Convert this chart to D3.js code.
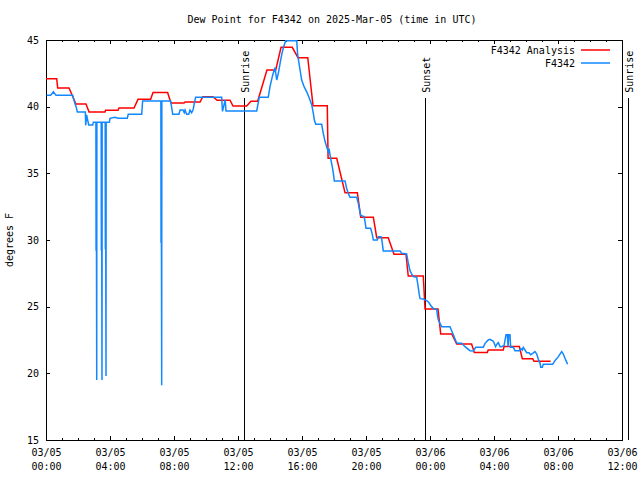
<!DOCTYPE html>
<html>
<head>
<meta charset="utf-8">
<script src="https://cdn.jsdelivr.net/npm/d3@7"></script>
<style>
  html, body { margin: 0; padding: 0; background: #fff; }
  svg { display: block; }
  text { font-family: "DejaVu Sans Mono", monospace; font-size: 10px; fill: #000; }
</style>
</head>
<body>
<svg id="chart" width="640" height="480"></svg>
<script>
// ---- data (hours after 2025-03-05 00:00 UTC, dew point in °F) ----
const titleText = "Dew Point for F4342 on 2025-Mar-05 (time in UTC)";
const yLabelText = "degrees F";
const seriesNames = ["F4342 Analysis", "F4342"];
const yTickValues = [15, 20, 25, 30, 35, 40, 45];

const analysisHours = [0, 0.67, 0.73, 1.44, 1.87, 2.5, 2.69, 3.69, 3.72, 4.5, 4.56, 5.5, 5.75, 6.54, 6.69, 7.6,
  7.81, 8.63, 8.69, 9.63, 9.8, 10.44, 10.69, 11.5, 11.69, 12.54, 12.81, 13.23, 13.81, 14.36, 14.69, 15.39,
  15.75, 16.36, 16.69, 17.58, 17.63, 18.17, 18.69, 19.46, 19.67, 20.46, 20.67, 21.39, 21.75, 22.5, 22.64,
  23.58, 23.69, 24.5, 24.67, 25.36, 25.67, 26.6, 26.77, 27.58, 27.64, 28.58, 28.63, 29.58, 29.77, 30.42,
  30.5, 31.54];
const analysisValues = [42.1, 42.1, 41.4, 41.4, 40.2, 40.2, 39.6, 39.6, 39.73, 39.73, 39.9, 39.9, 40.55, 40.55, 41.07, 41.07,
  40.28, 40.28, 40.35, 40.35, 40.75, 40.75, 40.48, 40.48, 40.05, 40.05, 40.4, 40.4, 42.75, 42.75, 44.45, 44.45,
  43.67, 43.67, 40.07, 40.07, 36.13, 36.13, 33.55, 33.55, 31.7, 31.7, 30.17, 30.17, 28.93, 28.93, 27.3,
  27.3, 24.82, 24.82, 22.95, 22.95, 22.2, 22.2, 21.57, 21.57, 21.75, 21.75, 22.02, 22.02, 21.1, 21.1,
  20.9, 20.9];

const obsHours = [0.04, 0.29, 0.46, 0.63, 1.67, 1.77, 1.88, 1.96, 2.46, 2.48, 2.54, 2.58, 2.67, 2.92, 2.96,
  3.12, 3.13, 3.14, 3.17, 3.18,
  3.45, 3.46, 3.47, 3.5, 3.51,
  3.70, 3.71, 3.72, 3.75, 3.76,
  3.96, 4.0, 4.3, 4.5, 5.08, 5.14, 5.98, 6.04,
  7.18, 7.19, 7.2, 7.23, 7.24,
  7.79, 7.92, 8.31, 8.38, 8.56, 8.64, 8.69, 8.79, 8.92, 9.0, 9.1, 9.19, 9.35, 10.98, 11.03, 11.2, 11.25,
  13.17, 13.33, 13.89, 14.0, 14.17, 14.31, 14.42, 14.52, 14.63, 14.73, 14.83, 14.98, 15.67, 15.73, 15.88,
  15.98, 16.13, 16.29, 16.46, 16.61, 16.71, 16.77, 16.86, 17.23, 17.33, 17.44, 17.54, 17.64, 17.69, 17.79,
  17.89, 17.96, 18.02, 18.69, 18.79, 18.89, 19.0, 19.42, 19.52, 19.58, 19.67, 19.88, 19.94, 20.0, 20.29,
  20.38, 20.46, 20.71, 20.77, 20.94, 20.98, 21.08, 22.13, 22.23, 22.54, 22.64, 22.75, 22.85, 22.96, 23.17,
  23.23, 23.33, 23.38, 23.58, 23.79, 23.9, 24.1, 24.25, 24.42, 24.46, 24.52, 24.73, 25.25, 25.42, 25.63,
  25.71, 25.98, 26.19, 26.5, 26.71, 26.86, 27.33, 27.44, 27.64, 27.75, 27.96, 28.1, 28.19, 28.27, 28.38,
  28.48, 28.63, 28.75, 28.83, 28.88, 28.92, 29.0, 29.04, 29.21, 29.31, 29.58, 29.69, 29.77, 29.83, 29.94,
  30.04, 30.19, 30.29, 30.42, 30.56, 30.67, 30.77, 30.88, 30.92, 31.02, 31.08, 31.67, 31.81, 32.02, 32.23,
  32.33, 32.5, 32.6];
const obsValues = [40.85, 40.85, 41.12, 40.85, 40.85, 40.38, 40.0, 39.6, 39.6, 38.6, 39.38, 39.13, 38.63, 38.63, 38.83,
  38.83, 29.2, 38.83, 19.5, 38.83,
  38.83, 29.2, 38.83, 19.5, 38.83,
  38.83, 29.3, 38.83, 19.8, 38.83,
  38.83, 39.13, 39.2, 39.13, 39.13, 39.43, 39.43, 40.43,
  40.43, 29.8, 40.43, 19.1, 40.43,
  40.43, 39.43, 39.43, 39.75, 39.75, 39.55, 39.75, 39.43, 39.43, 39.75, 39.55, 39.75, 40.7, 40.7, 39.65, 40.5, 39.68,
  39.68, 40.7, 40.7, 41.5, 42.38, 42.93, 42.0, 42.5, 43.25, 43.88, 44.4, 44.95, 44.95, 43.88, 42.75,
  42.0, 41.5, 41.13, 40.63, 40.13, 39.5, 39.0, 38.68, 38.68, 38.0, 37.4, 37.0, 36.63, 36.85, 36.13,
  35.5, 35.0, 34.43, 34.43, 33.88, 33.5, 33.2, 33.2, 32.75, 32.38, 31.85, 31.75, 31.38, 30.88, 30.88,
  30.5, 30.0, 30.0, 30.25, 30.25, 30.1, 29.18, 29.18, 29.0, 28.95, 28.3, 27.7, 27.45, 27.25, 27.2,
  26.75, 25.9, 25.6, 25.58, 25.45, 25.35, 25.0, 24.83, 24.8, 24.38, 24.0, 23.5, 23.5, 23.0, 22.38,
  22.25, 22.25, 22.0, 21.7, 21.68, 21.95, 21.95, 22.25, 22.5, 22.55, 22.4, 22.0, 22.2, 22.3, 22.0,
  22.0, 22.1, 22.9, 22.9, 22.0, 22.9, 22.9, 21.95, 21.95, 21.7, 21.7, 21.85, 21.75, 21.95, 21.75,
  21.55, 21.55, 21.4, 21.5, 21.63, 21.45, 21.05, 20.75, 20.45, 20.45, 20.68, 20.68, 20.95, 21.25, 21.63,
  21.45, 20.95, 20.68];

const eventNames = ["Sunrise", "Sunset", "Sunrise"];
const eventHours = [12.39, 23.71, 36.36];

// ---- drawing ----
const t0 = Date.UTC(2025, 2, 5, 0, 0);
const toDate = h => new Date(t0 + h * 3600000);

const svg = d3.select("#chart");
const M = { left: 46, right: 622, top: 40, bottom: 440 };

const x = d3.scaleUtc()
  .domain([toDate(0), toDate(36)])
  .range([M.left, M.right]);
const y = d3.scaleLinear()
  .domain([15, 45])
  .range([M.bottom, M.top]);

const fmtDay = d3.utcFormat("%m/%d");
const fmtTime = d3.utcFormat("%H:%M");

// minor x ticks (hourly)
svg.append("g").attr("transform", `translate(0,${M.bottom})`)
  .call(d3.axisBottom(x).ticks(d3.utcHour.every(1)).tickSize(-2).tickFormat(""))
  .call(g => g.select(".domain").remove());
svg.append("g").attr("transform", `translate(0,${M.top})`)
  .call(d3.axisTop(x).ticks(d3.utcHour.every(1)).tickSize(-2).tickFormat(""))
  .call(g => g.select(".domain").remove());

// major x ticks (4-hourly) with two-line labels
const xb = svg.append("g").attr("transform", `translate(0,${M.bottom})`)
  .call(d3.axisBottom(x).ticks(d3.utcHour.every(4)).tickSize(-4).tickPadding(12).tickFormat(fmtDay))
  .call(g => g.select(".domain").remove());
xb.selectAll(".tick text").each(function(d) {
  const t = d3.select(this);
  t.text(null).attr("y", 0).attr("dy", null);
  t.append("tspan").attr("x", 0).attr("y", 16).text(fmtDay(d));
  t.append("tspan").attr("x", 0).attr("y", 30).text(fmtTime(d));
});
svg.append("g").attr("transform", `translate(0,${M.top})`)
  .call(d3.axisTop(x).ticks(d3.utcHour.every(4)).tickSize(-4).tickFormat(""))
  .call(g => g.select(".domain").remove());

// y ticks
svg.append("g").attr("transform", `translate(${M.left},0)`)
  .call(d3.axisLeft(y).tickValues(yTickValues).tickSize(-4).tickPadding(7).tickFormat(d3.format("d")))
  .call(g => g.select(".domain").remove());
svg.append("g").attr("transform", `translate(${M.right},0)`)
  .call(d3.axisRight(y).tickValues(yTickValues).tickSize(-4).tickFormat(""))
  .call(g => g.select(".domain").remove());

svg.selectAll(".tick line").attr("stroke", "#000").attr("shape-rendering", "crispEdges");
svg.selectAll(".tick text").style("font-family", "'DejaVu Sans Mono', monospace").style("font-size", "10px").attr("fill", "#000");

// border
svg.append("rect")
  .attr("x", M.left + 0.5).attr("y", M.top + 0.5)
  .attr("width", M.right - M.left).attr("height", M.bottom - M.top)
  .attr("fill", "none").attr("stroke", "#000").attr("shape-rendering", "crispEdges");

// sunrise / sunset markers
const lineTopFrac = 0.855, labelFrac = 0.868;
eventHours.forEach((h, i) => {
  const ex = Math.round(x(toDate(h))) + 0.5;
  const yTop = M.bottom - lineTopFrac * (M.bottom - M.top);
  const yLab = M.bottom - labelFrac * (M.bottom - M.top);
  svg.append("line").attr("x1", ex).attr("x2", ex).attr("y1", yTop).attr("y2", M.bottom)
    .attr("stroke", "#000").attr("stroke-width", 1).attr("shape-rendering", "crispEdges");
  svg.append("text")
    .attr("transform", `translate(${ex + 4},${yLab}) rotate(-90)`)
    .attr("text-anchor", "start")
    .text(eventNames[i]);
});

// series
const line = d3.line().x(d => x(toDate(d[0]))).y(d => y(d[1]));
const anaData = analysisHours.map((h, i) => [h, analysisValues[i]]);
const obsData = obsHours.map((h, i) => [h, obsValues[i]]);
const colors = ["#ff0000", "#1188ff"];

svg.append("path").datum(anaData).attr("d", line)
  .attr("fill", "none").attr("stroke", colors[0]).attr("stroke-width", 1.5);
svg.append("path").datum(obsData).attr("d", line)
  .attr("fill", "none").attr("stroke", colors[1]).attr("stroke-width", 1.5);

// legend
seriesNames.forEach((name, i) => {
  const ly = 50 + i * 13;
  svg.append("text").attr("x", 575).attr("y", ly + 3.5).attr("text-anchor", "end").text(name);
  svg.append("line").attr("x1", 581).attr("x2", 610).attr("y1", ly).attr("y2", ly)
    .attr("stroke", colors[i]).attr("stroke-width", 1.5);
});

// title and y label
svg.append("text").attr("x", 332).attr("y", 23).attr("text-anchor", "middle").text(titleText);
svg.append("text").attr("transform", "translate(13,240) rotate(-90)").attr("text-anchor", "middle").text(yLabelText);
</script>
</body>
</html>
